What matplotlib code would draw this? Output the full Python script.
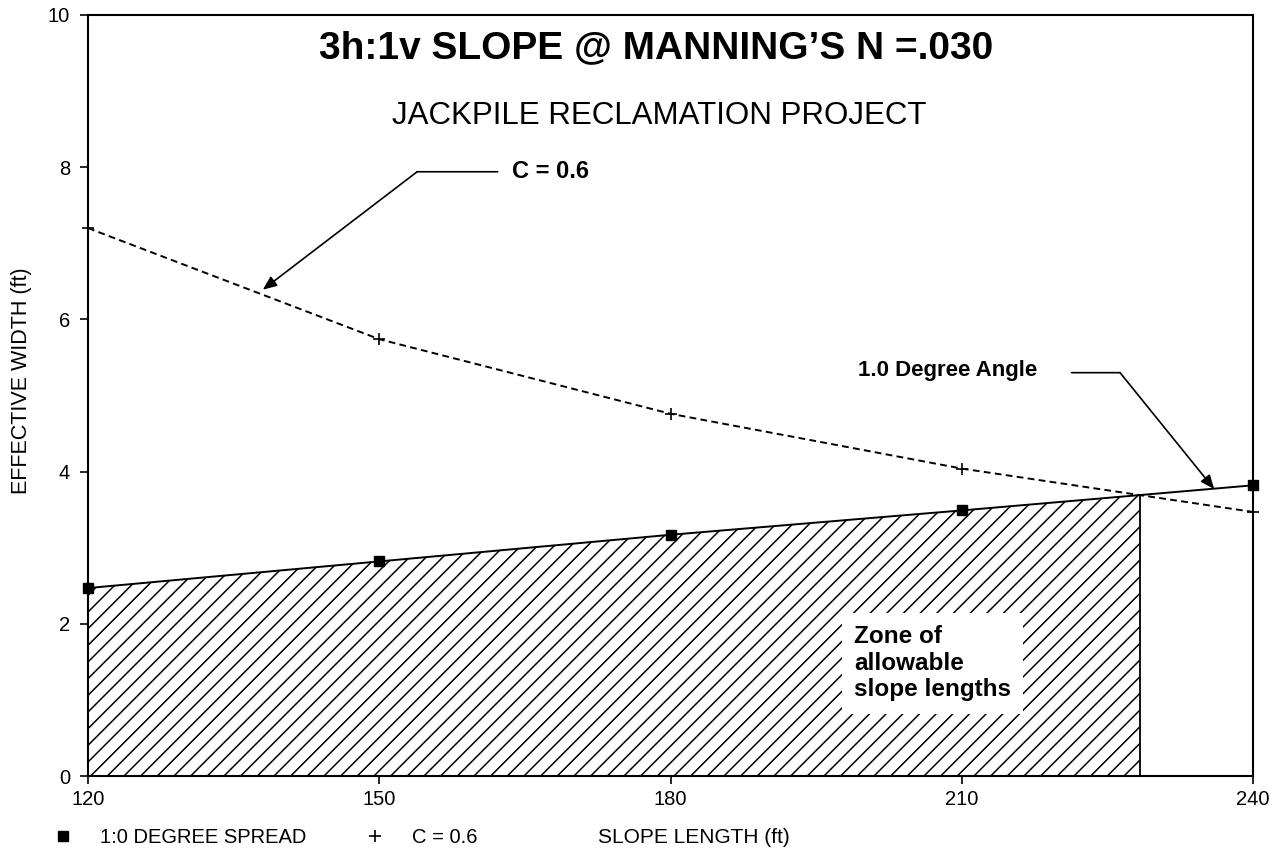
import matplotlib
matplotlib.use("Agg")
import matplotlib.pyplot as plt
from matplotlib.lines import Line2D
import numpy as np

# data
slope_len = np.array([120, 150, 180, 210, 240])
spread_w = np.array([2.47, 2.82, 3.17, 3.49, 3.82])   # 1.0 degree spread
c06_w = np.array([7.20, 5.74, 4.76, 4.04, 3.47])      # C = 0.6
x_ticks = [120, 150, 180, 210, 240]
y_ticks = [0, 2, 4, 6, 8, 10]

plt.rcParams['font.family'] = ['Liberation Sans', 'DejaVu Sans']
plt.rcParams['hatch.linewidth'] = 1.1

fig = plt.figure(figsize=(12.72, 8.51), dpi=100)
ax = fig.add_axes([0.0692, 0.0881, 0.9159, 0.8943])
ax.set_xlim(120, 240)
ax.set_ylim(0, 10)

# where the two curves cross on the last segment
x1, x2 = slope_len[-2], slope_len[-1]
a1, a2 = spread_w[-2], spread_w[-1]
b1, b2 = c06_w[-2], c06_w[-1]
t = (b1 - a1) / ((a2 - a1) - (b2 - b1))
x_int = x1 + t * (x2 - x1)
y_int = a1 + t * (a2 - a1)

# hatched zone under the spread line, up to the crossing
keep = slope_len < x_int
fx = np.append(slope_len[keep], x_int)
fy = np.append(spread_w[keep], y_int)
ax.fill_between(fx, 0, fy, facecolor='white', edgecolor='black', hatch='//', linewidth=0)
ax.vlines(x_int, 0, y_int, color='black', lw=1.3)

ax.plot(slope_len, spread_w, color='black', lw=1.4, marker='s', ms=6.5, clip_on=False, zorder=5)
ax.plot(slope_len, c06_w, color='black', lw=1.4, ls=(0, (3.5, 2.2)), marker='+', ms=8, mew=1.2,
        clip_on=False, zorder=5)

# titles
ax.text(178.5, 9.57, "3h:1v SLOPE @ MANNING\u2019S N =.030", ha='center', va='center',
        fontsize=28, fontweight='bold')
ax.text(178.8, 8.67, "JACKPILE RECLAMATION PROJECT", ha='center', va='center', fontsize=22.5)

# C = 0.6 leader
ax.text(163.7, 7.94, "C = 0.6", ha='left', va='center', fontsize=17, fontweight='bold')
ax.annotate('', xy=(153.9, 7.94), xytext=(162.2, 7.94),
            arrowprops=dict(arrowstyle='-', color='black', lw=1.2, shrinkA=0, shrinkB=0))
ax.annotate('', xy=(138.0, 6.39), xytext=(153.9, 7.94),
            arrowprops=dict(arrowstyle='-|>,head_length=0.6,head_width=0.25', color='black',
                            lw=1.2, shrinkA=0, shrinkB=0, mutation_scale=14))

# 1.0 degree angle leader
ax.text(199.3, 5.33, "1.0 Degree Angle", ha='left', va='center', fontsize=16, fontweight='bold')
ax.annotate('', xy=(226.3, 5.30), xytext=(221.3, 5.30),
            arrowprops=dict(arrowstyle='-', color='black', lw=1.2, shrinkA=0, shrinkB=0))
ax.annotate('', xy=(236.0, 3.77), xytext=(226.3, 5.30),
            arrowprops=dict(arrowstyle='-|>,head_length=0.6,head_width=0.25', color='black',
                            lw=1.2, shrinkA=0, shrinkB=0, mutation_scale=14))

ax.text(198.9, 1.48, "Zone of\nallowable\nslope lengths", ha='left', va='center',
        fontsize=17.5, fontweight='bold', linespacing=1.2, zorder=6,
        bbox=dict(facecolor='white', edgecolor='none', pad=9))

# axes styling
for s in ax.spines.values():
    s.set_linewidth(1.5)
ax.set_xticks(x_ticks)
ax.set_yticks(y_ticks)
ax.tick_params(direction='out', length=6, width=1.2, labelsize=14.5)
ax.tick_params(axis='y', pad=7)
ax.tick_params(axis='x', pad=4)

ax.set_xlabel("SLOPE LENGTH (ft)", fontsize=15)
ax.xaxis.set_label_coords(0.52, -0.068)
ax.set_ylabel("EFFECTIVE WIDTH (ft)", fontsize=15.5)
ax.yaxis.set_label_coords(-0.048, 0.52)

handles = [Line2D([], [], marker='s', ls='none', color='black', ms=6.5),
           Line2D([], [], marker='+', ls='none', color='black', ms=8, mew=1.2)]
fig.legend(handles, ["1:0 DEGREE SPREAD", "C = 0.6"], ncol=2, loc='center left',
           bbox_to_anchor=(0.0417, 0.0153), frameon=False, fontsize=14.5,
           handlelength=1.0, handletextpad=1.35, columnspacing=2.9,
           borderpad=0, borderaxespad=0)

fig.savefig("out.png", dpi=100, facecolor='white')
